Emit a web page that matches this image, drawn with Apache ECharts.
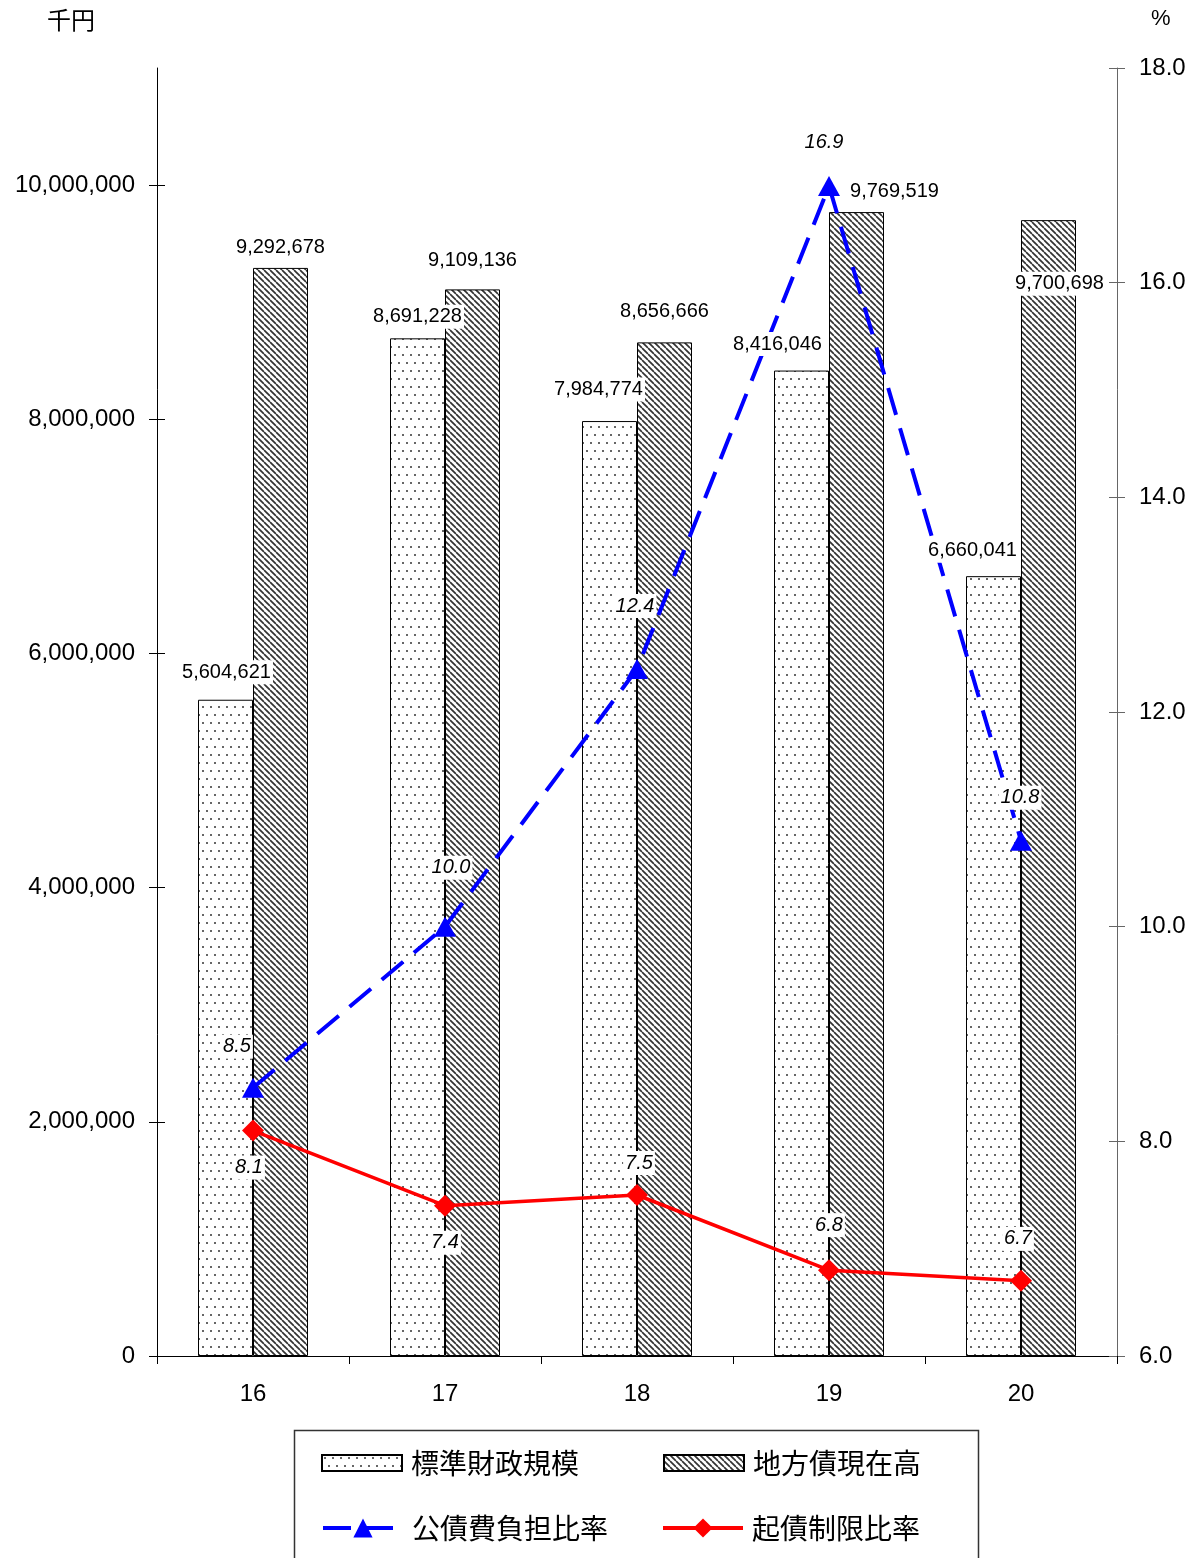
<!DOCTYPE html>
<html>
<head>
<meta charset="utf-8">
<title>標準財政規模・地方債現在高・公債費負担比率・起債制限比率</title>
<script src="https://cdn.jsdelivr.net/npm/echarts@6/dist/echarts.min.js"></script>
<style>
  html, body { margin: 0; padding: 0; background: #fff; }
  #chart { width: 1200px; height: 1558px; }
</style>
</head>
<body>
<div id="chart"></div>
<script>
// 年度（平成）
const categories = ['16', '17', '18', '19', '20'];
// 千円
const standardScale = [5604621, 8691228, 7984774, 8416046, 6660041];
const debtOutstanding = [9292678, 9109136, 8656666, 9769519, 9700698];
// %
const debtServiceRatio = [8.5, 10.0, 12.4, 16.9, 10.8];
const issuanceRestrictionRatio = [8.1, 7.4, 7.5, 6.8, 6.7];
// 軸目盛
const leftTicks = [0, 2000000, 4000000, 6000000, 8000000, 10000000];
const rightTicks = [6, 8, 10, 12, 14, 16, 18];

// bar geometry: two bars side by side, centred on each category
const BAR_W = 55;
// label nudges [dx, dy] from each bar's top centre / each line point
const stdLabelOffsets = [[1, -15], [0, -9], [-11, -19], [-24, -14], [-21, -13]];
const debtLabelOffsets = [[0, -8], [0, -16], [0, -18], [38, -8], [11, 76]];
const serviceLabelOffsets = [[-16, -19], [6, -37], [-2, -41], [-5, -22], [-1, -21]];
const restrictLabelOffsets = [[-4, 60], [0, 60], [2, -9], [0, -22], [-3, -19]];

// fill patterns for the bars
function dotPattern() {
  const c = document.createElement('canvas');
  c.width = 8; c.height = 16;
  const g = c.getContext('2d');
  g.fillStyle = '#fff'; g.fillRect(0, 0, 8, 16);
  g.fillStyle = '#666';
  g.fillRect(2, 2, 2, 2);
  g.fillRect(6, 10, 2, 2);
  return c;
}
function hatchPattern() {
  const s = 6;
  const c = document.createElement('canvas');
  c.width = s; c.height = s;
  const g = c.getContext('2d');
  g.fillStyle = '#fff'; g.fillRect(0, 0, s, s);
  g.strokeStyle = '#333'; g.lineWidth = 1.7;
  for (const o of [-s, 0, s]) {
    g.beginPath(); g.moveTo(o, 0); g.lineTo(o + s, s); g.stroke();
  }
  return c;
}

const numFont = '"Liberation Sans", Arial, sans-serif';
const cjkFont = '"Noto Sans CJK JP", "Noto Sans", sans-serif';
const fmt = v => v.toLocaleString('en-US');

const barLabel = {
  show: true, position: 'top', distance: 0, opacity: 1,
  fontFamily: numFont, fontSize: 20, color: '#000',
  backgroundColor: '#fff', padding: [1, 2], lineHeight: 22,
  formatter: p => fmt(p.value[1])
};
const lineLabel = {
  show: true, position: 'top', distance: 0,
  fontFamily: numFont, fontSize: 20, fontStyle: 'italic', color: '#000',
  backgroundColor: '#fff', padding: [1, 2], lineHeight: 22,
  formatter: p => p.value.toFixed(1)
};

const withOffsets = (vals, offs) => vals.map((v, i) => ({ value: v, label: { offset: offs[i] } }));
// value labels for the bars, kept on a top layer so the lines pass beneath them
const barLabelData = (vals, offs, side) => vals.map((v, i) => ({
  value: [i, v],
  label: { offset: [offs[i][0] + side * BAR_W / 2, offs[i][1]] }
}));
const labelLayer = (data) => ({
  type: 'scatter', yAxisIndex: 0, z: 10, silent: true,
  symbolSize: 1, itemStyle: { color: 'rgba(0,0,0,0)', opacity: 1 },
  label: barLabel, data
});

const chart = echarts.init(document.getElementById('chart'), null, { renderer: 'canvas' });

chart.setOption({
  animation: false,
  backgroundColor: '#fff',
  grid: { left: 157, right: 83, top: 68, bottom: 202, containLabel: false },
  xAxis: {
    type: 'category',
    data: categories,
    boundaryGap: true,
    axisLine: { lineStyle: { color: '#000', width: 1 } },
    axisTick: { show: true, length: 8, lineStyle: { color: '#000' } },
    axisLabel: { fontFamily: numFont, fontSize: 24, color: '#000', margin: 26 }
  },
  yAxis: [
    {
      type: 'value', min: 0, max: 11000000, position: 'left',
      axisLine: { show: true, lineStyle: { color: '#000', width: 1 } },
      axisTick: { show: true, length: 8, customValues: leftTicks, lineStyle: { color: '#000' } },
      axisLabel: { customValues: leftTicks, fontFamily: numFont, fontSize: 24, color: '#000', margin: 22, formatter: v => fmt(v) },
      splitLine: { show: false }
    },
    {
      type: 'value', min: 6, max: 18, interval: 2, position: 'right',
      axisLine: { show: true, lineStyle: { color: '#666', width: 1 } },
      axisTick: { show: true, length: 8, lineStyle: { color: '#666' } },
      axisLabel: { fontFamily: numFont, fontSize: 24, color: '#000', margin: 22, formatter: v => v.toFixed(1) },
      splitLine: { show: false }
    },
    {
      // inner half of the left tick marks
      type: 'value', min: 0, max: 11000000, position: 'left',
      axisLine: { show: false },
      axisTick: { show: true, inside: true, length: 8, customValues: leftTicks, lineStyle: { color: '#000' } },
      axisLabel: { show: false },
      splitLine: { show: false }
    },
    {
      // inner half of the right tick marks
      type: 'value', min: 6, max: 18, interval: 2, position: 'right',
      axisLine: { show: false },
      axisTick: { show: true, inside: true, length: 8, lineStyle: { color: '#666' } },
      axisLabel: { show: false },
      splitLine: { show: false }
    }
  ],
  legend: [
    {
      data: [
        { name: '標準財政規模', icon: 'rect' },
        { name: '地方債現在高', icon: 'rect' }
      ],
      left: 321, top: 1449, padding: 0,
      itemWidth: 80, itemHeight: 16, itemGap: 84,
      textStyle: { fontFamily: cjkFont, fontSize: 28, color: '#000', padding: [0, 0, 0, 4] }
    },
    {
      data: [
        { name: '公債費負担比率', lineStyle: { width: 4 } },
        { name: '起債制限比率', lineStyle: { width: 4 } }
      ],
      left: 321, top: 1514, padding: 0,
      itemWidth: 80, itemHeight: 24, itemGap: 53,
      textStyle: { fontFamily: cjkFont, fontSize: 28, color: '#000', padding: [0, 0, 0, 4] }
    }
  ],
  graphic: [
    { type: 'text', left: 47, top: 8, style: { text: '千円', font: '24px ' + cjkFont, fill: '#000' } },
    { type: 'text', left: 1151, top: 8, style: { text: '%', font: '22px ' + numFont, fill: '#000' } },
    {
      type: 'rect', left: 292, top: 1428, silent: true,
      shape: { width: 684, height: 140 },
      style: { fill: 'none', stroke: '#333', lineWidth: 1.5 }
    }
  ],
  series: [
    {
      name: '標準財政規模', type: 'bar', yAxisIndex: 0,
      barWidth: BAR_W, barGap: '0%',
      itemStyle: { color: { image: dotPattern(), repeat: 'repeat' }, borderColor: '#000', borderWidth: 1 },
      data: standardScale
    },
    {
      name: '地方債現在高', type: 'bar', yAxisIndex: 0,
      barWidth: BAR_W, barGap: '0%',
      itemStyle: { color: { image: hatchPattern(), repeat: 'repeat' }, borderColor: '#000', borderWidth: 1 },
      data: debtOutstanding
    },
    {
      name: '公債費負担比率', type: 'line', yAxisIndex: 1, z: 5,
      symbol: 'triangle', symbolSize: [22, 20],
      lineStyle: { color: '#0000ff', width: 4, type: [28, 14] },
      itemStyle: { color: '#0000ff' },
      label: lineLabel,
      data: withOffsets(debtServiceRatio, serviceLabelOffsets)
    },
    {
      name: '起債制限比率', type: 'line', yAxisIndex: 1, z: 5,
      symbol: 'diamond', symbolSize: 22,
      lineStyle: { color: '#ff0000', width: 3.5 },
      itemStyle: { color: '#ff0000' },
      label: lineLabel,
      data: withOffsets(issuanceRestrictionRatio, restrictLabelOffsets)
    },
    labelLayer(barLabelData(standardScale, stdLabelOffsets, -1)),
    labelLayer(barLabelData(debtOutstanding, debtLabelOffsets, 1))
  ]
});
</script>
</body>
</html>
